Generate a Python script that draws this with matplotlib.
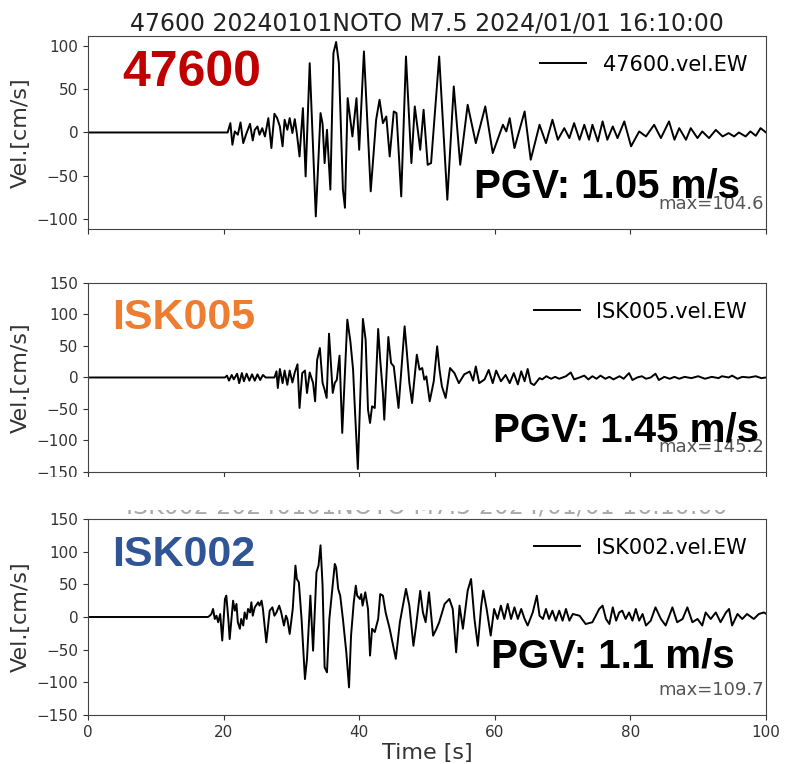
import matplotlib
matplotlib.use("Agg")
import matplotlib.pyplot as plt
from matplotlib.patches import Rectangle

# ---- data (time [s], velocity [cm/s]) ----
t1 = [0, 20.6, 21.0, 21.3, 21.65, 22.1, 22.5, 22.9, 23.3, 23.9,
      24.3, 24.6, 25.0, 25.3, 25.7, 26.1, 26.6, 27.05, 27.5, 27.9,
      28.3, 28.7, 29.0, 29.4, 29.75, 30.15, 30.5, 30.8, 31.2, 31.7,
      32.1, 32.7, 33.6, 34.3, 34.6, 34.9, 35.25, 35.75, 36.2, 36.6,
      37.0, 37.6, 37.9, 38.3, 39.0, 39.6, 40.0, 40.7, 41.7, 42.5,
      43.0, 43.5, 44.0, 44.5, 45.1, 45.5, 46.2, 46.9, 47.7, 48.2,
      48.7, 49.0, 49.5, 50.1, 50.6, 51.8, 53.0, 53.95, 54.9, 56.0,
      57.2, 58.6, 59.7, 61.2, 61.7, 62.2, 62.9, 64.4, 65.3, 66.6,
      67.55, 68.5, 69.3, 70.25, 71.0, 71.7, 72.5, 73.2, 73.9, 74.4,
      75.2, 75.9, 76.6, 77.4, 78.1, 79.1, 80.1, 81.3, 82.3, 83.5,
      84.5, 85.7, 86.5, 87.2, 88.2, 88.9, 89.9, 90.6, 91.6, 92.6,
      93.6, 94.5, 95.3, 96.0, 97.0, 97.7, 98.5, 99.2, 100]
v1 = [0, 0, 10.8, -14.2, 1.2, -2.6, 11.6, -12.3, -2.6, 10,
      -9.2, 3.1, 7, -2.6, 5, -4.6, 16.6, -18, 21.6, 16.6,
      7, -16, 14.7, 3.1, 16.6, -0.7, 15.4, -0.7, -27.7, 28.1,
      -50.8, 80.1, -97, 22.4, 10, -35.4, 3.1, -66, 91.7, 104.6,
      80, -66, -87, 39.7, -4.6, 39.7, -20, 93.6, -68, 14.7,
      37.8, 10.8, 18.5, -27.7, 24.3, 22.4, -73.9, 87.8, -35.4, 30.1,
      -0.7, -20, 26.2, -37.3, -35.4, 87.8, -77.7, 53.2, -37.3, 32.0,
      -12.3, 30.1, -23.8, 8.9, 1.2, 16.6, -18, 24.3, -31.5, 8.9,
      -12.3, 14.7, -8.4, 5, -6.5, 10.8, -8.4, 8.9, -8.4, 8.9,
      -10.3, 12.8, -8.4, 7, -6.5, 12.8, -16, 1.2, -4.6, 8.9,
      -6.5, 12.8, -8.4, 5, -8.4, 5, -6.5, 1.2, -6.5, 3,
      -4.6, -0.7, -4.6, 0, -4.6, 1.2, -3.8, 5, 0]

t2 = [0, 20.2, 20.5, 20.8, 21.2, 21.5, 22.0, 22.3, 22.7, 23.0,
      23.4, 23.8, 24.2, 24.6, 25.0, 25.4, 25.8, 26.2, 27.5, 27.8,
      28.0, 28.3, 28.7, 29.0, 29.4, 29.75, 30.15, 30.5, 30.9, 31.2,
      31.6, 32.0, 32.3, 32.7, 33.2, 33.5, 33.8, 34.2, 34.6, 34.9,
      35.2, 35.55, 35.85, 36.1, 36.4, 36.7, 37.1, 37.5, 38.25, 38.7,
      39.1, 39.3, 39.8, 40.55, 40.95, 41.3, 41.6, 41.9, 42.3, 42.8,
      43.1, 43.5, 43.7, 44.3, 44.7, 45.1, 45.5, 45.8, 46.7, 47.0,
      47.4, 47.8, 48.5, 48.9, 49.3, 49.6, 49.9, 50.4, 51.0, 51.5,
      51.85, 52.2, 52.75, 53.4, 54.05, 54.7, 55.5, 56.3, 56.8, 57.2,
      57.7, 58.5, 59.1, 59.7, 60.2, 60.9, 61.6, 62.2, 62.8, 63.4,
      63.9, 64.4, 64.85, 65.3, 65.8, 66.6, 67.0, 67.6, 68.3, 68.9,
      69.5, 70.5, 71.2, 71.7, 72.5, 73.2, 73.8, 74.4, 75.0, 75.6,
      76.3, 76.9, 77.5, 78.4, 79.0, 79.8, 80.3, 81.0, 81.7, 82.3,
      83.0, 83.7, 84.2, 85.0, 85.8, 86.5, 87.2, 88.0, 89.0, 90.0,
      91.0, 92.0, 93.0, 93.5, 94.5, 95.0, 95.8, 96.5, 97.5, 98.5,
      99.3, 100]
v2 = [0, 0, 3, -5, 4, -3, 6, -9, 7, -6,
      6, -5, 5, -5, 5, -4, 4, 0, 0, 9.8,
      -16.7, 13.5, -9, 11, -11.6, 11, -8, 8, 21, -48.4,
      7, 11, -24.6, 8, -8.7, -37.8, 28, 46.8, -8.7, -19.3,
      -32.5, 69.6, 17.7, -24.6, -8.7, -3.7, 34.7, -88, 91.8, 57.4,
      12.4, -35, -145.2, 92.9, 60, -51, -72.2, -45.8, -48.4, 77,
      28, -24.6, -67, 64.3, 23, 17.7, -19.3, -48.4, 81.2, 44,
      -8.7, -40.5, 36.2, 12.4, 15, -3.4, 1.8, -37.8, -6, 49.5,
      12.4, -14, -32.5, 15, 7, -9, 5, 9.5, -5, 17.5,
      -9, -3, 12, -9, 11, -6, 4, -9, 7, -11,
      9.8, -6, 13.5, -9, -12, -1, -3, 2, -2, 1,
      -2, 2, 8, -3, 0, 3, -3, 2, -2, 3,
      -2, 1, -3, 2, -2, 7, -4, 0, 2, -2,
      0, 6, -4, 1, -2, 1, -2, 1, -1, 2,
      -2, 1, -1, 2, 0, 3, -2, 1, 0, 2,
      -1, 0]

t3 = [0, 17.7, 17.97, 18.2, 18.45, 18.7, 18.95, 19.2, 19.5, 19.8,
      20.2, 20.4, 20.7, 20.9, 21.2, 21.4, 21.65, 21.9, 22.1, 22.4,
      22.6, 22.9, 23.1, 23.4, 23.6, 23.9, 24.1, 24.3, 24.6, 25.1,
      25.3, 25.6, 25.8, 26.3, 26.8, 27.2, 27.5, 27.8, 28.2, 28.5,
      28.9, 29.2, 29.4, 29.75, 30.2, 30.6, 30.8, 31.1, 31.5, 32.0,
      32.3, 32.8, 33.2, 33.7, 34.0, 34.3, 34.6, 34.9, 35.25, 35.6,
      36.4, 36.6, 36.9, 37.2, 37.6, 38.1, 38.5, 38.8, 39.2, 39.5,
      39.7, 40.1, 40.3, 40.5, 40.9, 41.3, 41.6, 41.9, 42.3, 42.8,
      43.1, 43.5, 43.9, 44.5, 45.4, 46.0, 46.9, 47.4, 48.0, 48.4,
      49.0, 49.4, 49.8, 50.3, 50.9, 51.4, 51.8, 52.6, 53.3, 53.8,
      54.3, 54.8, 55.3, 56.0, 56.5, 57.0, 57.5, 58.0, 58.3, 58.8,
      59.4, 59.9, 60.4, 60.9, 61.4, 61.9, 62.4, 62.9, 63.4, 63.9,
      64.4, 64.85, 65.6, 66.2, 66.6, 67.1, 67.55, 68.0, 68.5, 69.0,
      69.5, 70.0, 70.5, 71.0, 71.5, 72.5, 73.4, 74.4, 75.4, 75.9,
      76.4, 76.9, 77.4, 77.9, 78.35, 78.8, 79.3, 79.8, 80.3, 80.8,
      81.3, 81.8, 82.3, 83.0, 83.7, 84.5, 85.2, 86.2, 86.9, 87.7,
      88.4, 89.15, 89.9, 90.6, 91.1, 91.85, 92.6, 93.3, 94.1, 94.55,
      95.0, 95.8, 96.5, 97.2, 98.2, 98.95, 99.7, 100]
v3 = [0, 0, 2, 4.6, 12.3, -3, 2, -8, 4.6, -36,
      27.6, 32.7, -3, -33.7, 2, 25, 9.7, 20, -8, -18,
      -3, -13, 7, -3, 12.3, 7, 22.5, 2, 14.8, 22.5,
      17.4, 25, 12.3, -38.8, 9.7, 14.8, 2, 7, 17.4, 7,
      -13, 2, -3, -26, 12.3, 78.6, 58.2, 53.1, -3, -95,
      -64.3, 32.7, -51.5, 68.4, 78.6, 109.7, 48, -77, -84.7, -3,
      81.2, 76, 43, 32.7, -3, -54, -107.7, -28.5, 22.5, 48,
      32.7, 27.6, 35, 17.4, 37.8, 12.3, -59, -18, -23, -3,
      35, 32.7, 7, -18, -64, -8, 43, 17.4, -44, -13,
      40, 7, -8, 37.8, -28.6, -18, -8, 20, 27.6, 12.3,
      -54, 17.4, -18, 40.4, 58.2, -3, -44, 17.4, 40.4, 12.3,
      -28.5, 12.3, -3, 17.4, -3, 20, -3, 14.8, -3, 12.3,
      -3, -13, 7, 32.7, 2, -3, 12.3, -3, 9.7, -5.6,
      9.7, -5.6, 12.3, -5.6, 4.6, 2, -10.7, -8, 12.3, 17.4,
      -3, -10.7, 14.8, -5.6, 7, 9.7, -3, 7, -5.6, 12.3,
      -5.6, 4.6, -13, -5.6, 14.8, -3, -13, 14.8, -8, -3,
      14.8, -8, -3, -13, 7, -3, 7, -8, 7, 12.3,
      -13, 4.6, -3, 4.6, -3, 4.6, 7, 5]

stations = ["47600", "ISK005", "ISK002"]
station_colors = ["#C00000", "#ED7D31", "#2F5597"]
station_sizes = [36, 31, 31]
pgv_labels = ["PGV: 1.05 m/s", "PGV: 1.45 m/s", "PGV: 1.1 m/s"]
max_labels = ["max=104.6", "max=145.2", "max=109.7"]
ylims = [111.5, 150, 150]
yticks = [[-100, -50, 0, 50, 100],
          [-150, -100, -50, 0, 50, 100, 150],
          [-150, -100, -50, 0, 50, 100, 150]]
title_text = "{} 20240101NOTO M7.5 2024/01/01 16:10:00"

fig = plt.figure(figsize=(7.87, 7.64), dpi=100)
rects = [[0.1118, 0.7003, 0.8615, 0.2526],
         [0.1118, 0.3822, 0.8615, 0.2474],
         [0.1118, 0.0641, 0.8615, 0.2566]]
series = [(t1, v1), (t2, v2), (t3, v3)]
label_pos = [(0.05, 0.81), (0.035, 0.815), (0.035, 0.816)]
pgv_pos = [(0.962, 0.22), (0.99, 0.222), (0.954, 0.30)]

axes = []
for i in range(3):
    ax = fig.add_axes(rects[i])
    t, v = series[i]
    ax.plot(t, v, color="black", lw=1.4, label=stations[i] + ".vel.EW")
    ax.set_xlim(0, 100)
    ax.set_ylim(-ylims[i], ylims[i])
    ax.set_yticks(yticks[i])
    ax.set_xticks([0, 20, 40, 60, 80, 100])
    ax.tick_params(labelsize=11, colors="#333333")
    for s in ax.spines.values():
        s.set_color("#444444")
    ax.set_ylabel("Vel.[cm/s]", fontsize=16, color="#333333", labelpad=4)
    ax.legend(loc="upper right", frameon=False, fontsize=15,
              handlelength=2.2, borderaxespad=0.5)
    ax.text(label_pos[i][0], label_pos[i][1], stations[i], transform=ax.transAxes,
            fontsize=station_sizes[i], fontweight="bold", color=station_colors[i],
            family="Liberation Sans", va="center", ha="left")
    ax.text(0.997, 0.13, max_labels[i], transform=ax.transAxes, fontsize=13,
            color="#555555", ha="right", va="center")
    ax.text(pgv_pos[i][0], pgv_pos[i][1], pgv_labels[i], transform=ax.transAxes,
            fontsize=29, fontweight="bold", color="black",
            family="Liberation Sans", va="center", ha="right")
    if i < 2:
        ax.tick_params(labelbottom=False)
    axes.append(ax)

axes[0].set_title(title_text.format("47600"), fontsize=17, color="#222222", pad=4)
axes[2].set_title(title_text.format("ISK002"), fontsize=17, color="#aaaaaa", pad=4)
axes[2].set_xlabel("Time [s]", fontsize=16, color="#333333", labelpad=2)

# the top of the bottom panel's title is cut off in the reference
fig.add_artist(Rectangle((0, 1 - 510 / 764), 1, 33 / 764, transform=fig.transFigure,
                         facecolor="white", edgecolor="none", zorder=5))

fig.savefig("out.png", dpi=100)
